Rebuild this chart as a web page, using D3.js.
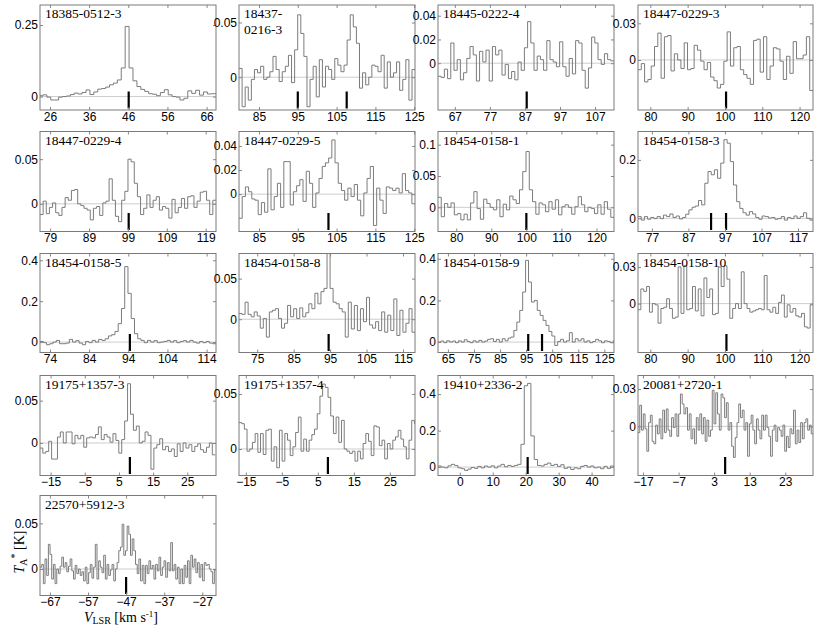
<!DOCTYPE html>
<html>
<head>
<meta charset="utf-8">
<script src="https://d3js.org/d3.v7.min.js"></script>
<style>
  body { margin: 0; background: #fff; }
  svg { display: block; }
  .tick text { font-family: "Liberation Sans", Arial, sans-serif; font-size: 12px; fill: #000; }
  .tick line { stroke: #888; }
  .name { font-family: "Liberation Serif", "Times New Roman", serif; font-size: 13.5px; fill: #000; }
  .axis-title { font-family: "Liberation Serif", "Times New Roman", serif; font-size: 14px; fill: #000; }
</style>
</head>
<body>
<div id="chart"></div>
<script>
// Source names, one per panel (reading order)
const names = [
  "18385-0512-3", "18437-\n0216-3", "18445-0222-4", "18447-0229-3",
  "18447-0229-4", "18447-0229-5", "18454-0158-1", "18454-0158-3",
  "18454-0158-5", "18454-0158-8", "18454-0158-9", "18454-0158-10",
  "19175+1357-3", "19175+1357-4", "19410+2336-2", "20081+2720-1",
  "22570+5912-3"
];

// Velocity range (km/s) and T_A* range (K) shown in each panel
const xDomains = [
  [23.45, 68.4], [79.85, 125.2], [62.2, 112.4], [76.7, 123.6],
  [76.4, 121.65], [79.85, 125.2], [74.8, 125], [73.2, 121.1],
  [71.45, 116.4], [70, 118.3], [61.2, 128.7], [76.7, 123.6],
  [-18.1, 33.4], [-16.9, 32], [-6.6, 46.8], [-18.4, 30.8],
  [-69.6, -23.4]
];
const yDomains = [
  [-0.047, 0.32], [-0.03, 0.066], [-0.0394, 0.049], [-0.041, 0.045],
  [-0.031, 0.081], [-0.031, 0.052], [-0.0386, 0.121], [-0.045, 0.297],
  [-0.051, 0.433], [-0.041, 0.081], [-0.05, 0.425], [-0.04, 0.041],
  [-0.0384, 0.0797], [-0.0241, 0.0668], [-0.046, 0.502], [-0.0395, 0.0409],
  [-0.029, 0.0805]
];

const xTicks = [
  [26, 36, 46, 56, 66], [85, 95, 105, 115, 125], [67, 77, 87, 97, 107], [80, 90, 100, 110, 120],
  [79, 89, 99, 109, 119], [85, 95, 105, 115, 125], [80, 90, 100, 110, 120], [77, 87, 97, 107, 117],
  [74, 84, 94, 104, 114], [75, 85, 95, 105, 115], [65, 75, 85, 95, 105, 115, 125], [80, 90, 100, 110, 120],
  [-15, -5, 5, 15, 25], [-15, -5, 5, 15, 25], [0, 10, 20, 30, 40], [-17, -7, 3, 13, 23],
  [-67, -57, -47, -37, -27]
];
const yTicks = [
  [0, 0.25], [0, 0.05], [0, 0.02, 0.04], [0, 0.03],
  [0, 0.05], [0, 0.02, 0.04], [0, 0.05, 0.1], [0, 0.2],
  [0, 0.2, 0.4], [0, 0.05], [0, 0.2, 0.4], [0, 0.03],
  [0, 0.05], [0, 0.05], [0, 0.2, 0.4], [0, 0.03],
  [0, 0.05]
];

// Velocities of the vertical markers
const markers = [
  [46.1], [95.0, 107.6], [87.5], [100.3],
  [99.2], [102.9], [100], [93.2, 97.3],
  [94.4], [94.6], [95.8, 101.1], [100.4],
  [8.2], [7.8], [20.6], [6.1],
  [-47]
];

// First channel centre and channel width (km/s)
const vStart = [23.7, 80.25, 62.65, 77.14, 76.8, 80.26, 75.26, 73.64, 71.87, 70.42, 61.75, 77.08, -17.7, -16.54, -6.1, -18.15, -69.38];
const vStep  = [1.0, 0.796, 0.913, 0.885, 0.808, 0.825, 0.93, 0.871, 0.832, 0.833, 1.12, 0.769, 0.855, 0.75, 1.007, 0.497, 0.44];

// Spectra, T_A* (K) per channel
const s1 = [0.003,0.006,-0.002,-0.012,-0.012,-0.002,0,0.002,0.007,0.012,0.009,0.014,0.023,0.007,0.016,0.026,0.028,0.033,0.041,0.047,0.058,0.1,0.245,0.1,0.055,0.035,0.025,0.018,0.01,0.008,0.003,0.014,0.024,0.006,0,-0.002,-0.012,-0.006,0.02,0.011,0.022,0.005,0.016,0.009,0.01,0.01];
const s2 = [0.008,-0.027,-0.009,-0.021,-0.002,0.007,0.004,0.01,-0.002,0,0.005,0.019,0.007,-0.004,0.005,0.01,0.02,-0.005,0.025,0.057,0.04,0.019,-0.027,-0.002,0.01,-0.018,0.016,-0.009,0.01,0.007,-0.002,0.017,0.011,0.005,0.011,0.034,0.057,0.046,0.031,-0.01,0.004,-0.007,0,0.011,0.01,0.005,0.02,-0.01,0.014,0,0.004,0.014,-0.012,-0.002,0.016,-0.021,0.007];
const s3 = [-0.011,-0.012,-0.005,-0.013,0.017,-0.006,0.003,-0.014,-0.008,0.004,0.014,0.007,-0.015,0.01,0.001,0.011,-0.015,0.014,0.007,0.011,-0.01,-0.001,-0.013,-0.007,-0.014,0.001,-0.006,0.013,0.035,0.017,-0.006,0.006,0.003,-0.006,0.019,0.003,0.001,-0.003,0.018,-0.003,-0.011,0.004,-0.009,0.019,0.017,-0.006,-0.021,-0.004,0.022,0.017,0.003,-0.001,0.008,0.003,0.002];
const s4 = [-0.008,-0.003,-0.018,-0.016,-0.005,0.011,0.022,-0.015,0.019,0.02,-0.009,0.005,0,-0.007,0.014,-0.008,-0.007,0.012,0.008,-0.001,-0.008,-0.002,-0.014,-0.017,-0.023,-0.02,-0.001,0.023,-0.005,0.01,0.011,-0.008,-0.012,-0.015,-0.02,0.016,0.017,-0.01,0.019,-0.016,-0.005,0.01,0.009,-0.001,-0.016,0.003,-0.011,0.015,0.001,0.001,0.004,0.019,-0.025];
const s5 = [-0.012,0.003,-0.011,-0.004,0.001,-0.01,-0.013,-0.004,0.007,0.004,0.015,0.016,0,-0.002,-0.005,-0.007,-0.018,-0.005,-0.003,-0.013,0.001,0.003,0.028,0.004,-0.014,-0.02,0.004,0.014,0.05,0.047,0.023,0.008,-0.012,-0.005,0.01,-0.004,0.004,0.008,-0.007,-0.003,-0.005,-0.016,0.005,-0.01,-0.004,0.006,-0.005,0.008,0.009,-0.004,0.003,0.013,0.014,0.004,-0.012,0.004];
const s6 = [-0.02,-0.002,0.006,0.002,-0.004,-0.005,-0.017,-0.007,-0.015,0.021,-0.013,-0.002,0.009,-0.011,0.027,0.027,-0.009,0.002,0.007,0.012,-0.006,0.019,0.009,-0.011,0.001,0.013,0.023,0.026,0.03,0.045,0.026,0.009,0.003,-0.005,0.005,-0.002,0.008,-0.005,-0.018,0.001,0.013,0.023,-0.026,0.005,-0.005,-0.016,0.006,0.005,0.003,0.005,0.001,0.017,0.003,0.001,-0.008];
const s7 = [0.016,-0.015,0.006,0,0.007,-0.012,-0.01,-0.02,-0.011,-0.02,0.007,0.025,-0.002,-0.019,0.013,0.006,0,-0.004,0.012,-0.015,0.005,-0.004,0.018,0.012,0.006,0.028,0.057,0.089,0.028,0.009,-0.011,0.007,0.004,-0.007,0.009,-0.003,0.012,-0.012,0.001,0.004,0,-0.011,0.001,0.017,0.004,-0.007,0,-0.002,-0.01,0.004,-0.011,0.009,-0.003,-0.016];
const s8 = [0.006,-0.006,0.006,-0.003,0.003,-0.001,0.006,-0.001,0.011,0.006,0.015,0.003,0.008,-0.002,0.003,0.014,0.029,0.038,0.042,0.061,0.046,0.12,0.16,0.149,0.166,0.137,0.189,0.269,0.257,0.194,0.114,0.057,0.034,0.019,0.011,0.023,0.015,0.003,-0.003,0.008,0.006,0.001,0.003,-0.003,-0.001,0.006,-0.006,0.003,-0.001,0.008,0,0.006,0.019,0,-0.006];
const s9 = [0.003,-0.003,-0.013,-0.008,0,0.008,-0.008,-0.008,-0.005,0.013,0,0.007,-0.005,-0.013,0.003,-0.003,0.008,0,0.013,0.008,0.016,0.03,0.036,0.052,0.09,0.164,0.369,0.238,0.115,0.041,0.016,0.008,-0.003,0.008,0,0.007,-0.003,0,0.003,0.008,0,0.007,-0.003,0.003,0.007,0,0.008,0,-0.005,0.003,-0.003,0.003,-0.005,-0.008];
const s10 = [0.007,0.006,0.021,0.006,0.003,0.009,0.004,-0.011,0.001,-0.022,0.009,0.011,0.013,0.001,-0.011,-0.005,0.017,0.003,0.013,0.001,0.014,0.003,0.008,0.019,0.013,0.032,0.019,0.034,0.038,0.085,0.038,0.021,0.019,0.013,0.009,-0.022,0.021,-0.012,0.017,-0.014,0.013,-0.003,0.027,-0.007,-0.011,-0.003,-0.014,0.009,-0.016,0.005,-0.014,0.025,-0.02,0.011,-0.016,-0.005,0.013,-0.016];
const s11 = [0,0.005,-0.003,0.006,0,0.005,-0.003,0.006,0,0.011,0.003,-0.003,0.006,0,0.008,0,0.005,0.013,0.016,0.003,0.013,0,0.016,0.006,0.019,0.024,0.056,0.096,0.152,0.24,0.392,0.288,0.192,0.2,0.152,0.128,0.104,0.08,0.051,0.029,-0.016,0.003,0.013,0,0.006,0.045,0,0.016,0.006,0.016,0,0.006,-0.003,0.003,0.013,0.006,-0.003,0.006,0.003,-0.003,0.006,0.003,-0.003];
const s12 = [-0.005,0.012,0.01,0.014,-0.007,0,-0.001,-0.016,-0.004,-0.003,0.004,-0.004,-0.012,-0.011,0.03,-0.008,0.031,-0.005,-0.004,0.014,-0.006,0.012,-0.01,0.021,0.005,0.012,-0.009,-0.008,0.03,0.014,0.031,0.02,-0.012,-0.004,0,-0.004,0.026,0,-0.004,-0.007,-0.006,-0.005,-0.004,-0.005,0.023,-0.005,-0.007,-0.003,-0.008,0.001,0.007,-0.011,-0.001,-0.007,-0.004,-0.01,-0.011,-0.008,-0.019,-0.02,-0.001];
const s13 = [-0.006,-0.012,-0.01,0.002,-0.019,-0.019,0.007,0.013,0,0.013,0.013,-0.001,0.009,0.005,0.009,-0.005,0.006,0.007,0.006,0.01,0.019,0.004,0.01,0.007,0.001,0.011,0.003,-0.012,0.004,0.026,0.07,0.034,0.015,0.02,0,0.002,0.013,0.009,-0.031,-0.006,-0.002,0.005,-0.008,-0.004,-0.01,-0.007,-0.016,-0.001,-0.01,0,-0.006,-0.002,-0.01,-0.004,-0.001,-0.008,-0.011,-0.005,0,-0.014];
const s14 = [0.024,0.023,0.018,-0.002,0,0.006,0.014,-0.003,0.014,-0.005,0.017,0.018,-0.011,0.002,-0.017,0.017,-0.011,0.014,0.008,-0.006,0.002,0.015,0.029,-0.002,0.009,-0.002,0.008,0.013,0.018,0.032,0.048,0.059,0.056,0.047,0.03,0.014,0.029,0.006,0.026,0,-0.002,-0.004,-0.002,-0.011,-0.002,-0.009,0.005,0.014,0.007,-0.006,0.021,0.02,0.003,0.008,-0.009,0.005,0,0.008,0.011,0.017,0.009,0.002,-0.009,0.008,0.026,0.023,0.008];
const s15 = [0.006,0,-0.004,0.007,0.015,0.009,-0.004,-0.009,-0.018,-0.011,-0.002,-0.007,0.004,-0.004,0.006,0,0.007,-0.004,0.006,0.015,0.002,0.009,0.004,0.009,0.015,0.125,0.446,0.459,0.171,0.042,0.009,0.006,0.015,0.022,0.009,0.015,0.004,0.013,-0.007,0,-0.013,-0.004,-0.009,0.004,0.009,0,0.006,-0.004,0,-0.009,0.004,-0.007,0.006,-0.004];
const s16 = [-0.005,0.017,-0.003,0.01,-0.002,-0.02,0.003,0.009,-0.012,-0.014,0.001,-0.006,0.006,-0.01,0.013,-0.005,0.014,-0.003,-0.008,0.007,-0.001,0.01,-0.008,0.01,0.026,0.018,0.01,0.015,-0.003,0.01,-0.01,-0.002,-0.014,0.007,-0.003,0.01,-0.006,0.007,-0.012,0.005,-0.008,-0.003,0.029,0.002,0.027,0.01,-0.003,0.026,0.023,0.007,0.019,-0.003,0.003,-0.016,-0.025,-0.009,0.003,0.018,0.007,0.013,-0.003,0.003,-0.024,0.002,0.009,-0.003,-0.014,0.006,-0.003,-0.01,0.009,-0.003,0.009,-0.001,-0.008,-0.024,-0.003,0.001,-0.012,-0.001,-0.003,-0.008,0.001,-0.02,-0.008,-0.017,-0.002,-0.006,0.013,-0.014,-0.003,-0.013,0.003,-0.01,0.003,0.006,-0.003,0.001,-0.006];
const s17 = [0.002,0.005,-0.016,0.011,-0.007,0.027,0.016,-0.011,0.005,-0.016,0,-0.005,0.003,0.013,0.002,0.007,-0.003,0.003,0.011,-0.002,-0.011,0.004,-0.005,0,-0.007,-0.003,-0.013,0.002,-0.016,-0.004,0.005,-0.01,0.002,0.027,-0.011,0.009,0.002,-0.004,0.015,-0.011,0.005,-0.007,-0.001,0.005,-0.013,0,0.007,0.02,0.024,0.049,0.015,0.02,0.047,0.038,0.015,0.033,0.02,0.005,-0.005,0.011,-0.013,0.004,-0.016,0.004,-0.005,0.009,0,0.004,-0.011,0.005,-0.002,0.013,-0.007,0.002,0.009,-0.009,0.007,-0.002,0.029,-0.002,0.005,-0.011,0.002,-0.016,0,-0.016,0.004,-0.009,0.009,-0.016,0.015,0.002,0.011,-0.004,0.007,-0.009,0.005,-0.013,0.007,0.004,0.005,0,-0.003,-0.016,-0.001];
const spectra = [s1, s2, s3, s4, s5, s6, s7, s8, s9, s10, s11, s12, s13, s14, s15, s16, s17];

// Page layout
const W = 830, H = 632;
const colLeft = [40, 239, 438, 638], colRight = [216, 415, 614, 813];
const rowTop = [5, 131.5, 253.5, 375.5, 495.5], rowBottom = [110, 231.5, 352.5, 475.5, 595.5];

const svg = d3.select("#chart")
  .append("svg")
    .attr("width", W)
    .attr("height", H);
const defs = svg.append("defs");

const fmt = d => d === 0 ? "0" : String(d);

names.forEach((name, i) => {
  const r = Math.floor(i / 4), c = i % 4;
  const x = d3.scaleLinear().domain(xDomains[i]).range([colLeft[c], colRight[c]]);
  const y = d3.scaleLinear().domain(yDomains[i]).range([rowBottom[r], rowTop[r]]);
  const g = svg.append("g");

  defs.append("clipPath").attr("id", "clip" + i)
    .append("rect")
      .attr("x", colLeft[c]).attr("y", rowTop[r])
      .attr("width", colRight[c] - colLeft[c]).attr("height", rowBottom[r] - rowTop[r]);

  // zero line
  g.append("line")
    .attr("x1", x.range()[0]).attr("x2", x.range()[1])
    .attr("y1", y(0)).attr("y2", y(0))
    .attr("stroke", "#cdcdcd").attr("stroke-width", 1);

  // spectrum as histogram steps
  const vals = spectra[i];
  const pts = vals.map((v, k) => [vStart[i] + (k - 0.5) * vStep[i], v]);
  pts.push([vStart[i] + (vals.length - 0.5) * vStep[i], vals[vals.length - 1]]);
  const line = d3.line().x(d => x(d[0])).y(d => y(d[1])).curve(d3.curveStepAfter);
  g.append("path")
    .attr("clip-path", `url(#clip${i})`)
    .attr("d", line(pts))
    .attr("fill", "none")
    .attr("stroke", "#7c7c7c")
    .attr("stroke-width", 1);

  // velocity markers
  g.selectAll(".marker")
    .data(markers[i])
    .join("line")
      .attr("class", "marker")
      .attr("x1", d => x(d)).attr("x2", d => x(d))
      .attr("y1", y.range()[0] - 1.5).attr("y2", y.range()[0] - 18.5)
      .attr("stroke", "#000").attr("stroke-width", 2.2);

  // axes with inward ticks
  g.append("g")
    .attr("transform", `translate(0,${rowBottom[r]})`)
    .call(d3.axisBottom(x).tickValues(xTicks[i]).tickSizeInner(-3).tickSizeOuter(0).tickPadding(2))
    .call(a => a.select(".domain").remove());
  g.append("g")
    .attr("transform", `translate(0,${rowTop[r]})`)
    .call(d3.axisTop(x).tickValues(xTicks[i]).tickSizeInner(-3).tickSizeOuter(0).tickFormat(""))
    .call(a => a.select(".domain").remove());
  g.append("g")
    .attr("transform", `translate(${colLeft[c]},0)`)
    .call(d3.axisLeft(y).tickValues(yTicks[i]).tickSizeInner(-3).tickSizeOuter(0).tickPadding(2).tickFormat(fmt))
    .call(a => a.select(".domain").remove());
  g.append("g")
    .attr("transform", `translate(${colRight[c]},0)`)
    .call(d3.axisRight(y).tickValues(yTicks[i]).tickSizeInner(-3).tickSizeOuter(0).tickFormat(""))
    .call(a => a.select(".domain").remove());

  // frame
  g.append("rect")
    .attr("x", colLeft[c]).attr("y", rowTop[r])
    .attr("width", colRight[c] - colLeft[c]).attr("height", rowBottom[r] - rowTop[r])
    .attr("fill", "none").attr("stroke", "#7a7a7a").attr("stroke-width", 1);

  // source name
  const t = g.append("text")
    .attr("class", "name")
    .attr("x", colLeft[c] + 5)
    .attr("y", rowTop[r] + 13);
  name.split("\n").forEach((part, k) => {
    t.append("tspan").attr("x", colLeft[c] + 5).attr("dy", k === 0 ? 0 : 16).text(part);
  });
});

// Axis titles
const yl = svg.append("text")
  .attr("class", "axis-title")
  .attr("transform", "translate(24,552) rotate(-90)")
  .attr("text-anchor", "middle");
yl.append("tspan").attr("font-style", "italic").text("T");
yl.append("tspan").attr("font-size", "10px").attr("dy", 3).text("A");
yl.append("tspan").attr("font-size", "10px").attr("dy", -9).text("*");
yl.append("tspan").attr("dy", 6).text(" [K]");

const xl = svg.append("text")
  .attr("class", "axis-title")
  .attr("x", 121).attr("y", 622)
  .attr("text-anchor", "middle");
xl.append("tspan").attr("font-style", "italic").text("V");
xl.append("tspan").attr("font-size", "10px").attr("dy", 2).text("LSR");
xl.append("tspan").attr("dy", -2).text(" [km s");
xl.append("tspan").attr("font-size", "9px").attr("dy", -5).text("-1");
xl.append("tspan").attr("dy", 5).text("]");
</script>
</body>
</html>
